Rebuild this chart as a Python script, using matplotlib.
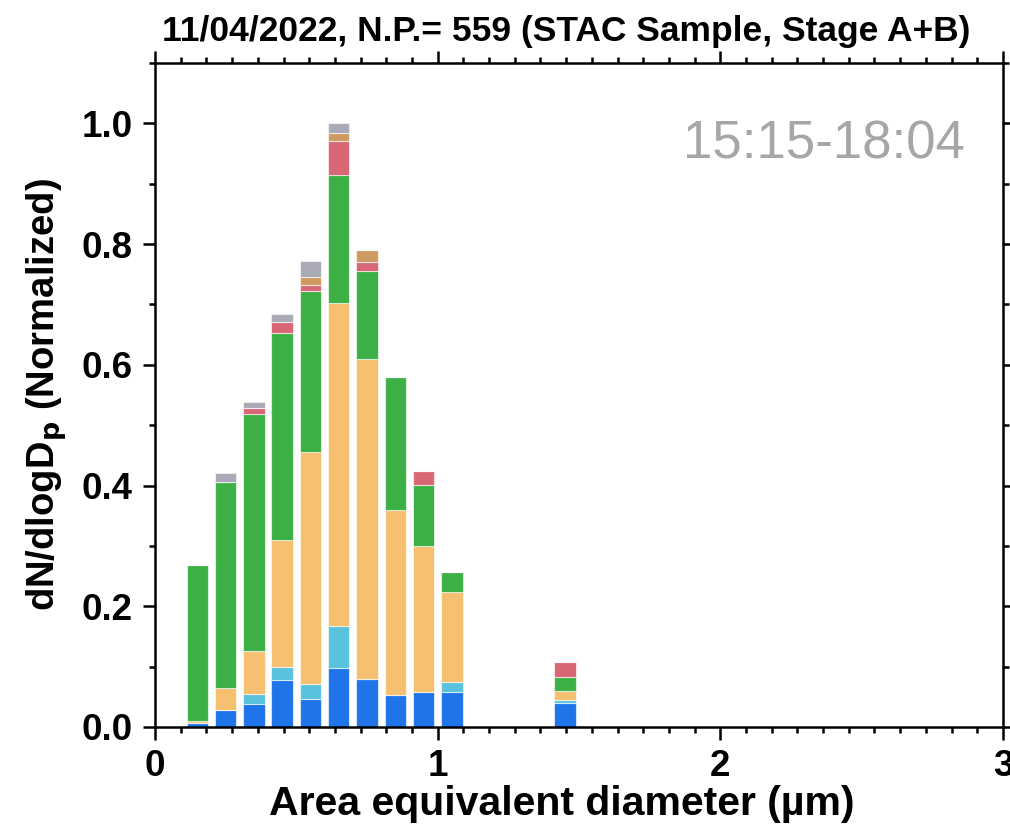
import matplotlib
matplotlib.use("Agg")
import matplotlib.pyplot as plt
import numpy as np
from matplotlib.ticker import MultipleLocator, AutoMinorLocator

plt.rcParams['font.family'] = ['Liberation Sans', 'DejaVu Sans']

# bin centres (um) and stacked class fractions (normalized dN/dlogDp)
diam = [0.15, 0.25, 0.35, 0.45, 0.55, 0.65, 0.75, 0.85, 0.95, 1.05, 1.45]
blue   = [0.006, 0.028, 0.038, 0.078, 0.046, 0.097, 0.079, 0.053, 0.058, 0.058, 0.039]
cyan   = [0.000, 0.000, 0.016, 0.021, 0.025, 0.070, 0.000, 0.000, 0.000, 0.016, 0.005]
orange = [0.004, 0.036, 0.072, 0.211, 0.385, 0.536, 0.531, 0.307, 0.242, 0.150, 0.016]
green  = [0.258, 0.342, 0.393, 0.342, 0.266, 0.211, 0.145, 0.220, 0.101, 0.033, 0.023]
red    = [0.000, 0.000, 0.009, 0.019, 0.011, 0.056, 0.016, 0.000, 0.023, 0.000, 0.025]
tan    = [0.000, 0.000, 0.000, 0.000, 0.013, 0.014, 0.019, 0.000, 0.000, 0.000, 0.000]
gray   = [0.000, 0.014, 0.010, 0.013, 0.026, 0.016, 0.000, 0.000, 0.000, 0.000, 0.000]

series = [blue, cyan, orange, green, red, tan, gray]
colors = ['#1f74ea', '#59c3de', '#f7c070', '#3cb045', '#d96674', '#cf9a5f', '#a9aab6']

fig = plt.figure(figsize=(10.1, 8.25), dpi=100)
ax = fig.add_axes([0.1535, 0.1188, 0.8395, 0.8048])

bottom = np.zeros(len(diam))
for vals, c in zip(series, colors):
    ax.bar(diam, vals, width=0.076, bottom=bottom, color=c,
           edgecolor=(1, 1, 1, 0.6), linewidth=0.8)
    bottom += np.array(vals)

ax.set_xlim(0, 3)
ax.set_ylim(0, 1.1)
ax.xaxis.set_major_locator(MultipleLocator(1))
ax.xaxis.set_minor_locator(AutoMinorLocator(11))
ax.yaxis.set_major_locator(MultipleLocator(0.2))
ax.yaxis.set_minor_locator(MultipleLocator(0.1))
ax.yaxis.set_major_formatter(matplotlib.ticker.FormatStrFormatter('%.1f'))

for s in ax.spines.values():
    s.set_linewidth(1.8)
ax.tick_params(which='both', direction='out', top=True, right=True, width=1.8)
ax.tick_params(which='major', length=9, labelsize=26.5, pad=7)
ax.tick_params(which='minor', length=4.5)
for lab in ax.get_xticklabels() + ax.get_yticklabels():
    lab.set_fontweight('bold')

ax.set_xlabel('Area equivalent diameter (µm)', fontsize=29.5, fontweight='bold')
ax.xaxis.set_label_coords(0.48, -0.087)
ax.set_ylabel('dN/dlogD$_\\mathbf{p}$ (Normalized)', fontsize=27.5, fontweight='bold', labelpad=9)
ax.set_title('11/04/2022, N.P.= 559 (STAC Sample, Stage A+B)', fontsize=25.5,
             fontweight='bold', pad=16, x=0.485)

ax.text(0.955, 0.877, '15:15-18:04', transform=ax.transAxes, ha='right', va='center',
        fontsize=38, color='#a6a6a6')

fig.savefig('out.png', dpi=100)
